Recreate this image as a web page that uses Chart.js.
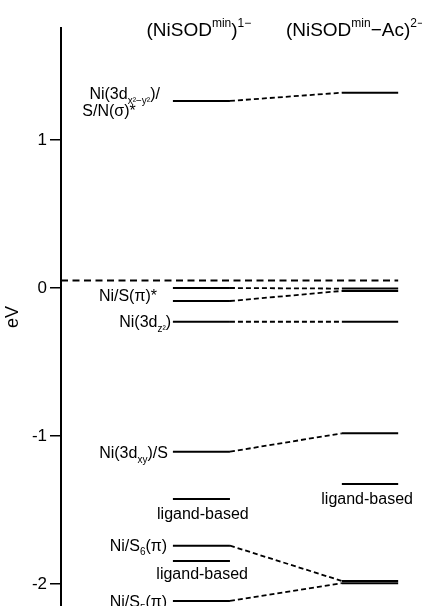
<!DOCTYPE html>
<html><head><meta charset="utf-8">
<script src="https://cdn.jsdelivr.net/npm/chart.js@4.4.1/dist/chart.umd.min.js"></script>
<style>html,body{margin:0;padding:0;background:#fff;overflow:hidden}#wrap{width:422px;height:606px;position:relative}</style>
</head><body><div id="wrap"><canvas id="c"></canvas></div>
<script>
// ---- data (eV) ----
const yTickValues = [1, 0, -1, -2];
const leftLevels = [1.264, 0.0, -0.088, -0.228, -1.106, -1.426, -1.741, -1.845, -2.115];
const rightLevels = [1.32, -0.004, -0.02, -0.228, -0.982, -1.324, -1.98, -1.995];
const connections = [[0,0],[1,1],[2,2],[3,3],[4,4],[6,6],[8,7]];
const referenceLevel = 0.05;
const columnTitles = [
  [['(NiSOD',''],['min','sup'],[')',''],['1−','sup']],
  [['(NiSOD',''],['min','sup'],['−Ac)',''],['2−','sup']]
];
const levelLabels = [
  {segs:[['Ni(3d',''],['x²−y²','sub'],[')/','']], x:2.74, y:1.318, align:'right'},
  {segs:[['S/N(σ)*','']], x:1.33, y:1.203, align:'center'},
  {segs:[['Ni/S(π)*','']], x:2.66, y:-0.047, align:'right'},
  {segs:[['Ni(3d',''],['z²','sub'],[')','']], x:3.05, y:-0.228, align:'right'},
  {segs:[['Ni(3d',''],['xy','sub'],[')/S','']], x:2.96, y:-1.108, align:'right'},
  {segs:[['ligand-based','']], x:3.93, y:-1.52, align:'center'},
  {segs:[['ligand-based','']], x:8.48, y:-1.419, align:'center'},
  {segs:[['Ni/S',''],['6','sub'],['(π)','']], x:2.94, y:-1.736, align:'right'},
  {segs:[['ligand-based','']], x:3.91, y:-1.926, align:'center'},
  {segs:[['Ni/S',''],['5','sub'],['(π)','']], x:2.94, y:-2.115, align:'right'}
];

// ---- layout constants (x units) ----
const X0 = 0, X1 = 10;
const LS = 3.1, LE = 4.68, RS = 7.78, RE = 9.34;
const titleX = [{x:3.82, align:'center'}, {x:6.23, align:'left'}];
const FONT = '"Liberation Sans", Arial, sans-serif';

const datasets = [];
datasets.push({data:[{x:X0,y:referenceLevel},{x:RE,y:referenceLevel}], borderColor:'#000', borderWidth:2, borderDash:[7,4.5]});
leftLevels.forEach(v => datasets.push({data:[{x:LS,y:v},{x:LE,y:v}], borderColor:'#000', borderWidth:2}));
rightLevels.forEach(v => datasets.push({data:[{x:RS,y:v},{x:RE,y:v}], borderColor:'#000', borderWidth:2}));
connections.forEach(([a,b]) => datasets.push({data:[{x:LE,y:leftLevels[a]},{x:RS,y:rightLevels[b]}], borderColor:'#000', borderWidth:1.8, borderDash:[5,3]}));
datasets.forEach(d => { d.showLine = true; d.pointRadius = 0; d.pointHoverRadius = 0; d.fill = false; });

function drawRich(ctx, segs, x, y, align, size) {
  const fontFor = t => (t ? Math.round(size*0.62) : size) + 'px ' + FONT;
  let w = 0;
  segs.forEach(([s,t]) => { ctx.font = fontFor(t); w += ctx.measureText(s).width; });
  let cx = align === 'center' ? x - w/2 : align === 'right' ? x - w : x;
  const base = y + size*0.36;
  ctx.textAlign = 'left'; ctx.textBaseline = 'alphabetic'; ctx.fillStyle = '#000';
  segs.forEach(([s,t]) => {
    ctx.font = fontFor(t);
    const off = t === 'sub' ? size*0.3 : t === 'sup' ? -size*0.45 : 0;
    ctx.fillText(s, cx, base + off);
    cx += ctx.measureText(s).width;
  });
}

const textPlugin = {
  id:'texts',
  afterDatasetsDraw(chart) {
    const {ctx, scales:{x, y}} = chart;
    ctx.save();
    levelLabels.forEach(l => drawRich(ctx, l.segs, x.getPixelForValue(l.x), y.getPixelForValue(l.y), l.align, 16));
    columnTitles.forEach((segs,i) => drawRich(ctx, segs, x.getPixelForValue(titleX[i].x), chart.chartArea.top + 1, titleX[i].align, 19));
    ctx.restore();
  }
};

new Chart(document.getElementById('c'), {
  type:'scatter',
  data:{datasets},
  options:{
    responsive:true, maintainAspectRatio:false, animation:false,
    layout:{padding:{top:28, right:0, bottom:0, left:0}},
    plugins:{legend:{display:false}, tooltip:{enabled:false}},
    scales:{
      x:{type:'linear', display:false, min:X0, max:X1},
      y:{type:'linear', min:-2.149, max:1.757,
        afterBuildTicks: s => { s.ticks = yTickValues.map(v => ({value:v})); },
        afterFit: s => { s.width = 61; s.paddingTop = 0; s.paddingBottom = 0; },
        ticks:{color:'#000', padding:3, font:{family:FONT, size:17}, callback: v => String(v)},
        grid:{drawOnChartArea:false, drawTicks:true, tickLength:11, color:'#000', lineWidth:1.5},
        border:{display:true, color:'#000', width:2},
        title:{display:true, text:'eV', color:'#000', font:{family:FONT, size:18}, padding:{top:2, bottom:0}}
      }
    }
  },
  plugins:[textPlugin]
});
</script></body></html>
